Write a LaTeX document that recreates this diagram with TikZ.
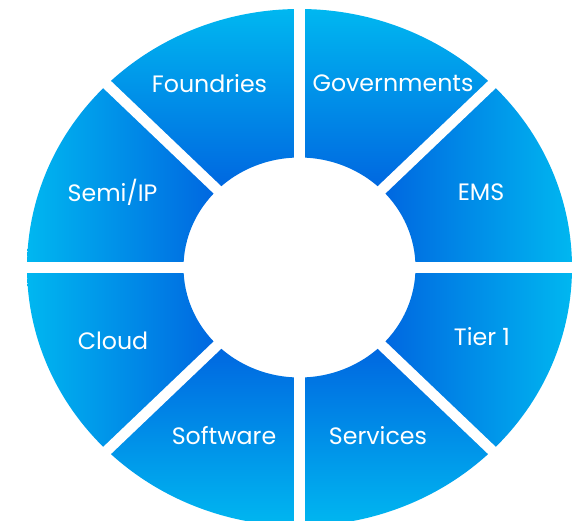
\documentclass[tikz,border=0pt]{standalone}
\usepackage{fontspec}
\setmainfont{Poppins}
\usepackage{xcolor}
\usepackage{tikz}
\usetikzlibrary{positioning,calc}

\definecolor{ringlight}{RGB}{0,183,240}
\definecolor{ringdark}{RGB}{0,102,224}

% one ring segment between two angles (outer and inner ellipse)
\newcommand{\ringseg}[2]{(#1:272.5 and 258.5) arc[start angle=#1, end angle=#2, x radius=272.5, y radius=258.5] -- (#2:116 and 110) arc[start angle=#2, end angle=#1, x radius=116, y radius=110] -- cycle}

\begin{document}
\begin{tikzpicture}[
    x=1pt, y=1pt,
    seglabel/.style={text=white, inner sep=0pt, font=\fontsize{23.7}{28}\selectfont},
    gap/.style={white, line width=10.5pt},
]
    \useasboundingbox (0,0) rectangle (580,-521);
    \clip (0,0) rectangle (580,-521);

    \begin{scope}[shift={(299.5,-267.5)}]
        % top pair
        \shade[top color=ringlight, bottom color=ringdark] \ringseg{45}{90};
        \shade[top color=ringlight, bottom color=ringdark] \ringseg{90}{135};
        % left pair
        \shade[left color=ringlight, right color=ringdark] \ringseg{135}{180};
        \shade[left color=ringlight, right color=ringdark] \ringseg{180}{225};
        % bottom pair
        \shade[bottom color=ringlight, top color=ringdark] \ringseg{225}{270};
        \shade[bottom color=ringlight, top color=ringdark] \ringseg{270}{315};
        % right pair
        \shade[right color=ringlight, left color=ringdark] \ringseg{315}{360};
        \shade[right color=ringlight, left color=ringdark] \ringseg{0}{45};

        % gaps between the segments
        \foreach \a in {0,45,...,315}
            \draw[gap] (\a:110 and 104) -- (\a:285 and 271);
    \end{scope}

    \node[seglabel] (foundries) at (209.5,-84) {Foundries};
    \node[seglabel] (governments) at (393,-83) {Governments};
    \node[seglabel] (semiip) at (112.5,-192) {Semi/IP};
    \node[seglabel] (ems) at (481,-192) {EMS};
    \node[seglabel] (cloud) at (113,-341) {Cloud};
    \node[seglabel] (tierone) at (482,-337) {Tier 1};
    \node[seglabel] (software) at (224,-436) {Software};
    \node[seglabel] (services) at (378,-436) {Services};
\end{tikzpicture}
\end{document}
